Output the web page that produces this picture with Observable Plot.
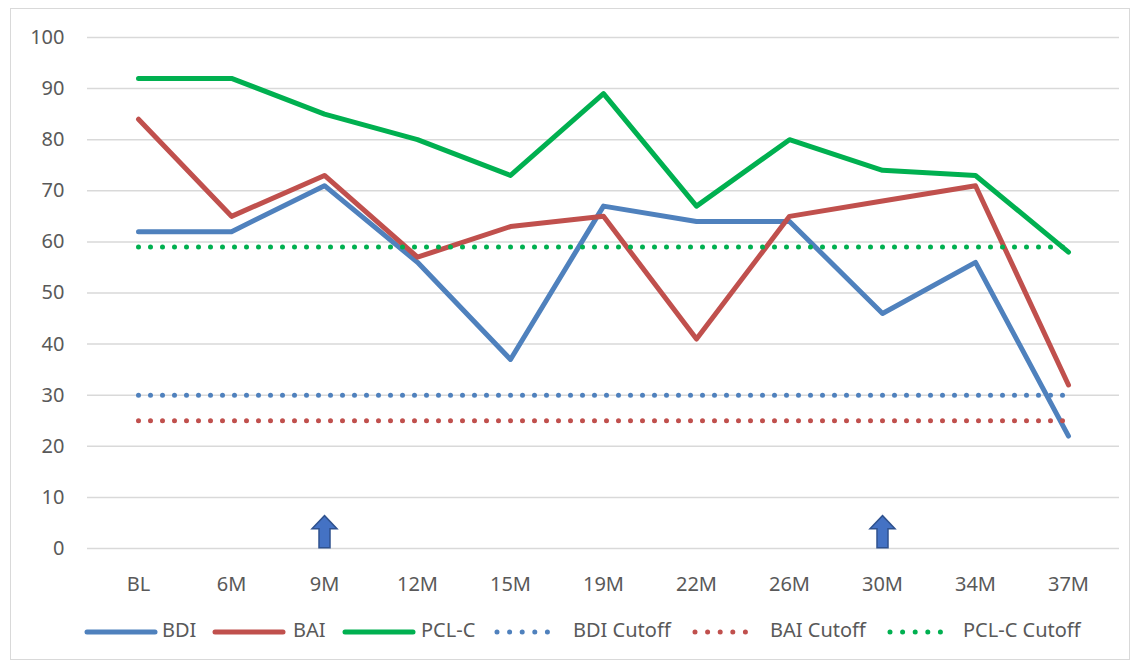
<!DOCTYPE html>
<html>
<head>
<meta charset="utf-8">
<script src="https://cdn.jsdelivr.net/npm/d3@7"></script>
<script src="https://cdn.jsdelivr.net/npm/@observablehq/plot@0.6"></script>
<style>
  html, body { margin: 0; padding: 0; background: #fff; }
  body { width: 1141px; height: 669px; position: relative; overflow: hidden; font-family: "Noto Sans", sans-serif; }
  #frame { position: absolute; left: 10px; top: 8px; width: 1120px; height: 652px; border: 1px solid #d9d9d9; box-sizing: border-box; }
  #chart { position: absolute; left: 0; top: 0; }
  #legend { position: absolute; left: 0; top: 619px; width: 1141px; height: 26px; font-size: 20px; color: #595959; }
  .sw { position: absolute; top: 8px; }
  .lt { position: absolute; top: -2px; line-height: 26px; white-space: nowrap; }
</style>
</head>
<body>
<div id="frame"></div>
<div id="chart"></div>
<div id="legend"></div>
<script>
const categories = ["BL","6M","9M","12M","15M","19M","22M","26M","30M","34M","37M"];
const bdi = [62,62,71,56,37,67,64,64,46,56,22];
const bai = [84,65,73,57,63,65,41,65,68,71,32];
const pcl = [92,92,85,80,73,89,67,80,74,73,58];
const bdiCutoff = 30;
const baiCutoff = 25;
const pclCutoff = 59;
const yTicks = [0,10,20,30,40,50,60,70,80,90,100];
const arrowAt = ["9M","30M"];
const arrowY = 3.3;

const seriesNames = ["BDI","BAI","PCL-C","BDI Cutoff","BAI Cutoff","PCL-C Cutoff"];
const colors = {"BDI":"#4F81BD","BAI":"#C0504D","PCL-C":"#00B050"};

const toRows = (vals) => categories.map((c,i) => ({t:c, v:vals[i]}));
const flat = (v) => categories.map(c => ({t:c, v}));

const arrowSymbol = {
  draw(ctx, size) {
    const r = Math.sqrt(size / Math.PI);
    const k = r / 16;
    ctx.moveTo(0, -16*k);
    ctx.lineTo(12.5*k, -3*k);
    ctx.lineTo(5.5*k, -3*k);
    ctx.lineTo(5.5*k, 16*k);
    ctx.lineTo(-5.5*k, 16*k);
    ctx.lineTo(-5.5*k, -3*k);
    ctx.lineTo(-12.5*k, -3*k);
    ctx.closePath();
  }
};

const solid = (vals, color) => Plot.line(toRows(vals), {x:"t", y:"v", stroke: color, strokeWidth: 5, strokeLinejoin: "round", strokeLinecap: "round"});
const dotted = (v, color) => Plot.line(flat(v), {x:"t", y:"v", stroke: color, strokeWidth: 5, strokeLinecap: "round", strokeDasharray: "0 12"});

const chart = Plot.plot({
  width: 1141,
  height: 600,
  marginLeft: 87,
  marginRight: 22,
  marginTop: 37,
  marginBottom: 52,
  style: {fontFamily: "Noto Sans, sans-serif", fontSize: "20px", background: "transparent"},
  x: {type: "point", domain: categories, padding: 0.5, label: null},
  y: {domain: [0,100], label: null},
  marks: [
    Plot.ruleY(yTicks, {stroke: "#d9d9d9", strokeWidth: 1.5}),
    Plot.axisY(yTicks, {tickSize: 0, tickPadding: 23, color: "#595959", fontSize: 20, label: null}),
    Plot.axisX({tickSize: 0, tickPadding: 28, color: "#595959", fontSize: 20, label: null}),
    solid(bdi, colors["BDI"]),
    solid(bai, colors["BAI"]),
    solid(pcl, colors["PCL-C"]),
    dotted(bdiCutoff, colors["BDI"]),
    dotted(baiCutoff, colors["BAI"]),
    dotted(pclCutoff, colors["PCL-C"]),
    Plot.dot(arrowAt, {x: d => d, y: () => arrowY, r: 16, symbol: arrowSymbol, fill: "#4472C4", stroke: "#2F528F", strokeWidth: 1.5})
  ]
});
document.getElementById("chart").appendChild(chart);

// legend layout (pixel positions of swatches and labels)
const swatchX = [87, 215, 345, 497, 695, 890];
const labelX = [162, 293, 421, 573, 770, 963];
const legend = document.getElementById("legend");
const ns = "http://www.w3.org/2000/svg";
seriesNames.forEach((name, i) => {
  const base = name.replace(" Cutoff","");
  const isCut = name.includes("Cutoff");
  const svg = document.createElementNS(ns, "svg");
  svg.setAttribute("class", "sw");
  svg.style.left = (swatchX[i] - 3) + "px";
  svg.setAttribute("width", 76);
  svg.setAttribute("height", 10);
  const ln = document.createElementNS(ns, "line");
  ln.setAttribute("x1", 3); ln.setAttribute("x2", isCut ? 66 : 71);
  ln.setAttribute("y1", 5); ln.setAttribute("y2", 5);
  ln.setAttribute("stroke", colors[base]);
  ln.setAttribute("stroke-width", 5);
  ln.setAttribute("stroke-linecap", "round");
  if (isCut) ln.setAttribute("stroke-dasharray", "0 12.6");
  svg.appendChild(ln);
  legend.appendChild(svg);
  const sp = document.createElement("span");
  sp.className = "lt";
  sp.style.left = labelX[i] + "px";
  sp.textContent = name;
  legend.appendChild(sp);
});
</script>
</body>
</html>
